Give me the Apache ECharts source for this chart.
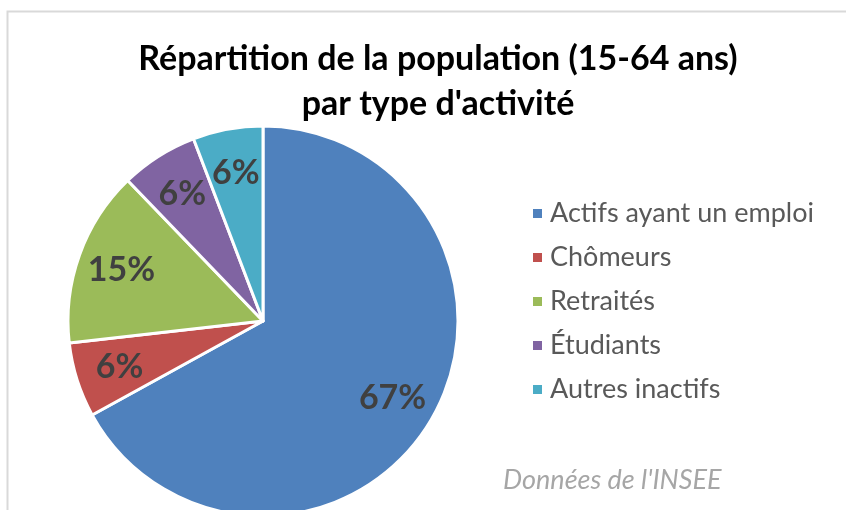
<!DOCTYPE html>
<html>
<head>
<meta charset="utf-8">
<script src="https://cdn.jsdelivr.net/npm/echarts@6/dist/echarts.min.js"></script>
<style>
  html, body { margin: 0; padding: 0; background: #fff; }
  #chart { width: 846px; height: 510px; }
</style>
</head>
<body>
<div id="chart"></div>
<script>
// categories and shares (in %)
var categories = ['Actifs ayant un emploi', 'Chômeurs', 'Retraités', 'Étudiants', 'Autres inactifs'];
var values = [67.0, 6.2, 14.6, 6.4, 5.8];
var colors = ['#4f81bd', '#c0504d', '#9bbb59', '#8064a2', '#4bacc6'];

var chart = echarts.init(document.getElementById('chart'));

var data = categories.map(function (name, i) {
    return {name: name, value: values[i], itemStyle: {color: colors[i]}};
});

var option = {
    backgroundColor: '#fff',
    animation: false,
    graphic: [{
        type: 'rect',
        shape: {x: 7.5, y: 11.5, width: 900, height: 600},
        style: {fill: 'none', stroke: '#d9d9d9', lineWidth: 2},
        silent: true
    }],
    title: [{
        text: "Répartition de la population (15-64 ans)\npar type d'activité",
        left: 433,
        textAlign: 'center',
        top: 32,
        textStyle: {
            fontFamily: 'Lato',
            fontWeight: 'bold',
            fontSize: 34,
            lineHeight: 45,
            color: '#000'
        }
    }, {
        text: "Données de l'INSEE",
        left: 498,
        top: 462,
        textStyle: {
            fontFamily: 'Lato',
            fontStyle: 'italic',
            fontWeight: 'normal',
            fontSize: 27,
            color: '#a6a6a6'
        }
    }],
    legend: {
        orient: 'vertical',
        left: 526,
        top: 195,
        itemWidth: 11,
        itemHeight: 11,
        itemGap: 17,
        icon: 'rect',
        data: categories,
        textStyle: {
            fontFamily: 'Lato',
            fontSize: 27,
            color: '#595959',
            padding: [0, 0, 0, 2]
        }
    },
    series: [{
        type: 'pie',
        center: [263, 321],
        radius: 195,
        startAngle: 90,
        clockwise: true,
        silent: true,
        itemStyle: {borderColor: '#fff', borderWidth: 3},
        label: {show: false},
        labelLine: {show: false},
        data: data
    }, {
        // transparent ring used only to place the percent labels further out
        type: 'pie',
        center: [263, 321],
        radius: [100, 195],
        startAngle: 90,
        clockwise: true,
        silent: true,
        legendHoverLink: false,
        itemStyle: {color: 'rgba(0,0,0,0)', borderWidth: 0},
        label: {
            show: true,
            position: 'inside',
            formatter: function (p) { return Math.round(p.value) + '%'; },
            fontFamily: 'Lato',
            fontWeight: 'bold',
            fontSize: 34,
            color: '#404040'
        },
        labelLine: {show: false},
        data: categories.map(function (name, i) {
            return {name: name, value: values[i]};
        })
    }]
};

chart.setOption(option);
</script>
</body>
</html>
